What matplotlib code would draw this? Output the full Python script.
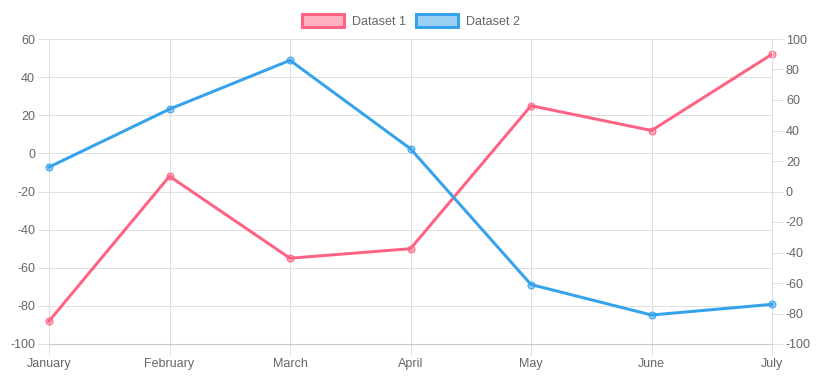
import matplotlib.pyplot as plt
from matplotlib.patches import Patch

months = ["January", "February", "March", "April", "May", "June", "July"]
dataset1 = [-88, -12, -55, -50, 25, 12, 52]
dataset2 = [16, 54, 86, 28, -61, -81, -74]

red = (255/255, 99/255, 132/255)
blue = (54/255, 162/255, 235/255)
grid_c = "#e0e0e0"
text_c = "#666666"
px = 0.72

plt.rcParams['font.family'] = ['Liberation Sans', 'DejaVu Sans']
plt.rcParams['axes.unicode_minus'] = False

fig = plt.figure(figsize=(8.21, 3.76), dpi=100)
ax = fig.add_axes([49/821, 32/376, (772-49)/821, (344-39)/376])
ax2 = ax.twinx()

x = range(len(months))
ax.plot(x, dataset1, color=red, lw=3*px, marker='o', ms=5,
        mfc=red + (0.5,), mec=red, mew=1*px, zorder=3, clip_on=False)
ax2.plot(x, dataset2, color=blue, lw=3*px, marker='o', ms=5,
         mfc=blue + (0.5,), mec=blue, mew=1*px, zorder=3, clip_on=False)

ax.set_xlim(0, 6)
ax.set_ylim(-100, 60)
ax.set_yticks(range(-100, 61, 20))
ax2.set_ylim(-100, 100)
ax2.set_yticks(range(-100, 101, 20))
ax.set_xticks(list(x))
ax.set_xticklabels(months)

ax.grid(True, color=grid_c, lw=1*px)
ax.set_axisbelow(True)
for a in (ax, ax2):
    for s in a.spines.values():
        s.set_visible(False)
    a.tick_params(colors=grid_c, labelcolor=text_c, labelsize=9, length=8, width=1*px, pad=2)
ax.spines['left'].set_visible(True)
ax.spines['left'].set_color(grid_c)
ax.spines['bottom'].set_visible(True)
ax.spines['bottom'].set_color("#c8c8c8")
ax2.spines['right'].set_visible(True)
ax2.spines['right'].set_color(grid_c)
ax.tick_params(axis='x', pad=2)

handles = [Patch(facecolor=red + (0.5,), edgecolor=red, lw=3*px, label="Dataset 1"),
           Patch(facecolor=blue + (0.5,), edgecolor=blue, lw=3*px, label="Dataset 2")]
fig.legend(handles=handles, loc='center', bbox_to_anchor=(0.5, 1 - 21/376), ncol=2,
           frameon=False, fontsize=9, labelcolor=text_c, handlelength=3.4, handleheight=1.2,
           handletextpad=0.6, columnspacing=0.8)

fig.savefig("out.png", dpi=100)
